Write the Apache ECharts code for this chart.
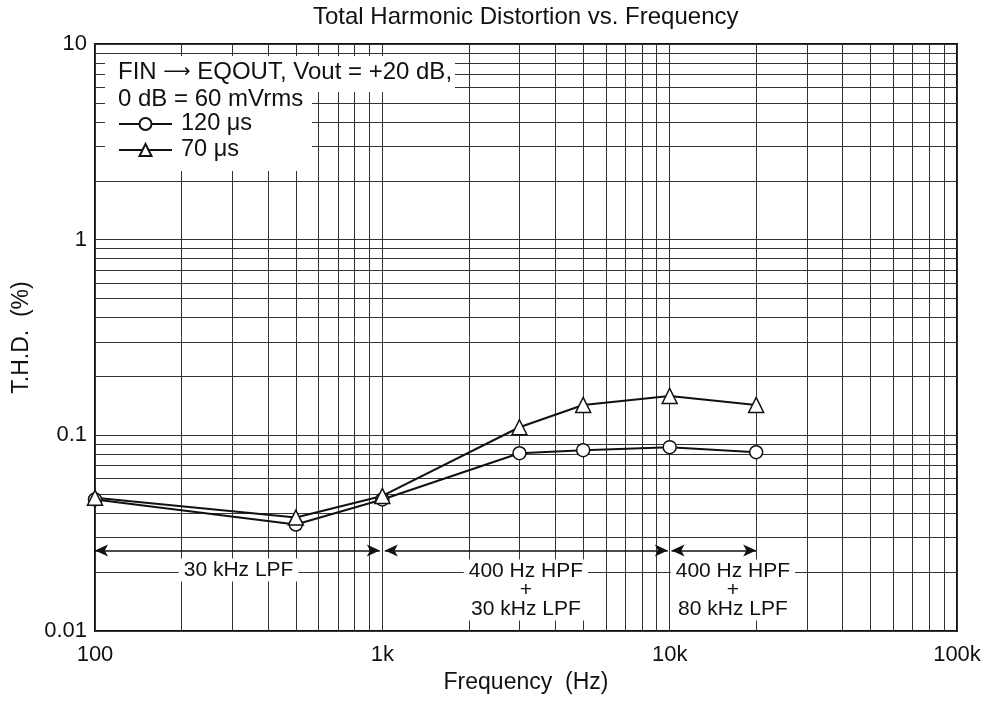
<!DOCTYPE html>
<html>
<head>
<meta charset="utf-8">
<title>Total Harmonic Distortion vs. Frequency</title>
<script src="https://cdn.jsdelivr.net/npm/echarts@6/dist/echarts.min.js"></script>
<style>
  html, body { margin: 0; padding: 0; background: #fff; }
  #chart { width: 993px; height: 701px; }
</style>
</head>
<body>
<div id="chart"></div>
<script>
// Measured THD at each test frequency
const freqHz = [100, 500, 1000, 3000, 5000, 10000, 20000];
const thd120us = [0.047, 0.035, 0.047, 0.081, 0.084, 0.087, 0.082];
const thd70us = [0.048, 0.038, 0.049, 0.110, 0.143, 0.159, 0.143];

const seriesNames = ['120 \u03bcs', '70 \u03bcs'];

// Axis tick captions
const xTickLabels = { 100: '100', 1000: '1k', 10000: '10k', 100000: '100k' };
const yTickLabels = { 0.01: '0.01', 0.1: '0.1', 1: '1', 10: '10' };

// Measurement filter bands (start / end frequency) and their captions
const bandStart = [100, 1020, 10150];
const bandEnd = [980, 9850, 20000];
const bandArrowLevel = 0.0258;
const bandLabels = ['30 kHz LPF', '400 Hz HPF\n+\n30 kHz LPF', '400 Hz HPF\n+\n80 kHz LPF'];
const bandLabelFreq = [316, 3160, 16600];
const bandLabelLevel = [0.0205, 0.0162, 0.0162];

// Test conditions (first line is split around the arrow glyph)
const conditionHead = 'FIN ';
const conditionTail = ' EQOUT, Vout = +20 dB,';
const conditionLine2 = '0 dB = 60 mVrms';

// Intermediate grid lines (2..9 within each decade)
const gridMultipliers = [2, 3, 4, 5, 6, 7, 8, 9];
const xDecades = [100, 1000, 10000];
const yDecades = [0.01, 0.1, 1];

const FONT = 'Liberation Sans, Arial, Helvetica, sans-serif';
const INK = '#111';
const GRID = '#333';

const minorLines = [];
xDecades.forEach(d => gridMultipliers.forEach(m => minorLines.push({ xAxis: d * m })));
yDecades.forEach(d => gridMultipliers.forEach(m => minorLines.push({ yAxis: +(d * m).toPrecision(6) })));

function keyOf(v) { return String(+Number(v).toPrecision(6)); }

const chart = echarts.init(document.getElementById('chart'), null, { renderer: 'canvas' });

chart.setOption({
  animation: false,
  backgroundColor: '#fff',
  textStyle: { fontFamily: FONT, color: INK },
  title: {
    text: 'Total Harmonic Distortion vs. Frequency',
    left: 313,
    top: 5,
    padding: 0,
    textStyle: { fontFamily: FONT, fontSize: 24, fontWeight: 'normal', color: INK }
  },
  grid: {
    left: 95, right: 36, top: 44, bottom: 70,
    show: true, borderColor: INK, borderWidth: 2, backgroundColor: 'transparent'
  },
  legend: {
    data: seriesNames,
    orient: 'vertical',
    left: 118,
    top: 112,
    padding: 0,
    itemWidth: 53,
    itemHeight: 15,
    itemGap: 2,
    z: 60,
    selectedMode: false,
    textStyle: { fontFamily: FONT, fontSize: 23.5, color: INK, lineHeight: 24, padding: [0, 0, 0, 4] }
  },
  xAxis: {
    type: 'log',
    logBase: 10,
    min: 100,
    max: 100000,
    name: 'Frequency  (Hz)',
    nameLocation: 'middle',
    nameGap: 40,
    nameTextStyle: { fontFamily: FONT, fontSize: 23, color: INK },
    axisLine: { show: false },
    axisTick: { show: false },
    axisLabel: {
      fontFamily: FONT, fontSize: 22, color: INK, margin: 13,
      showMinLabel: true, showMaxLabel: true,
      formatter: v => xTickLabels[keyOf(v)] || ''
    },
    splitLine: { show: true, lineStyle: { color: GRID, width: 1 } }
  },
  yAxis: {
    type: 'log',
    logBase: 10,
    min: 0.01,
    max: 10,
    name: 'T.H.D.  (%)',
    nameLocation: 'middle',
    nameGap: 62,
    nameRotate: 90,
    nameTextStyle: { fontFamily: FONT, fontSize: 23, color: INK },
    axisLine: { show: false },
    axisTick: { show: false },
    axisLabel: {
      fontFamily: FONT, fontSize: 22, color: INK, margin: 8,
      showMinLabel: true, showMaxLabel: true,
      formatter: v => yTickLabels[keyOf(v)] || ''
    },
    splitLine: { show: true, lineStyle: { color: GRID, width: 1 } }
  },
  graphic: [
    { type: 'rect', z: 50, silent: true, shape: { x: 105, y: 56, width: 350, height: 36 }, style: { fill: '#fff' } },
    { type: 'rect', z: 50, silent: true, shape: { x: 105, y: 92, width: 207, height: 79 }, style: { fill: '#fff' } },
    { type: 'text', z: 55, silent: true, x: 118, y: 72,
      style: {
        text: conditionHead + '{arr|\u27f6}' + conditionTail,
        font: '24px ' + FONT, fill: INK, verticalAlign: 'middle',
        rich: { arr: { fontFamily: 'DejaVu Sans', fontSize: 19, fill: INK, color: INK } }
      } },
    { type: 'text', z: 55, silent: true, x: 118, y: 99,
      style: { text: conditionLine2, font: '24px ' + FONT, fill: INK, verticalAlign: 'middle' } }
  ],
  series: [
    {
      name: 'grid',
      type: 'line',
      data: [],
      z: 1,
      silent: true,
      markLine: {
        silent: true,
        symbol: 'none',
        label: { show: false },
        animation: false,
        lineStyle: { color: GRID, width: 1, type: 'solid' },
        emphasis: { disabled: true },
        data: minorLines
      }
    },
    {
      name: 'bands',
      type: 'line',
      data: [],
      z: 4,
      silent: true,
      markLine: {
        silent: true,
        symbol: ['arrow', 'arrow'],
        symbolSize: [9, 13],
        label: { show: false },
        animation: false,
        lineStyle: { color: INK, width: 1.5, type: 'solid' },
        itemStyle: { color: INK },
        emphasis: { disabled: true },
        data: bandStart.map((s, i) => [
          { coord: [s, bandArrowLevel] },
          { coord: [bandEnd[i], bandArrowLevel] }
        ])
      }
    },
    {
      name: 'bandLabels',
      type: 'scatter',
      z: 6,
      silent: true,
      symbolSize: 1,
      itemStyle: { color: 'rgba(0,0,0,0)', opacity: 1 },
      data: bandLabelFreq.map((f, i) => ({ value: [f, bandLabelLevel[i]], name: bandLabels[i] })),
      label: {
        show: true,
        position: 'inside',
        formatter: p => p.name,
        fontFamily: FONT,
        fontSize: 21,
        lineHeight: 19,
        color: INK,
        opacity: 1,
        align: 'center',
        backgroundColor: '#fff',
        padding: [2, 5]
      },
      emphasis: { disabled: true }
    },
    {
      name: seriesNames[0],
      type: 'line',
      z: 5,
      data: freqHz.map((f, i) => [f, thd120us[i]]),
      symbol: 'circle',
      symbolSize: 13,
      lineStyle: { color: INK, width: 2 },
      itemStyle: { color: '#fff', borderColor: INK, borderWidth: 1.5 },
      emphasis: { disabled: true }
    },
    {
      name: seriesNames[1],
      type: 'line',
      z: 5,
      data: freqHz.map((f, i) => [f, thd70us[i]]),
      symbol: 'triangle',
      symbolSize: 15,
      lineStyle: { color: INK, width: 2 },
      itemStyle: { color: '#fff', borderColor: INK, borderWidth: 1.5 },
      emphasis: { disabled: true }
    }
  ]
});
</script>
</body>
</html>
